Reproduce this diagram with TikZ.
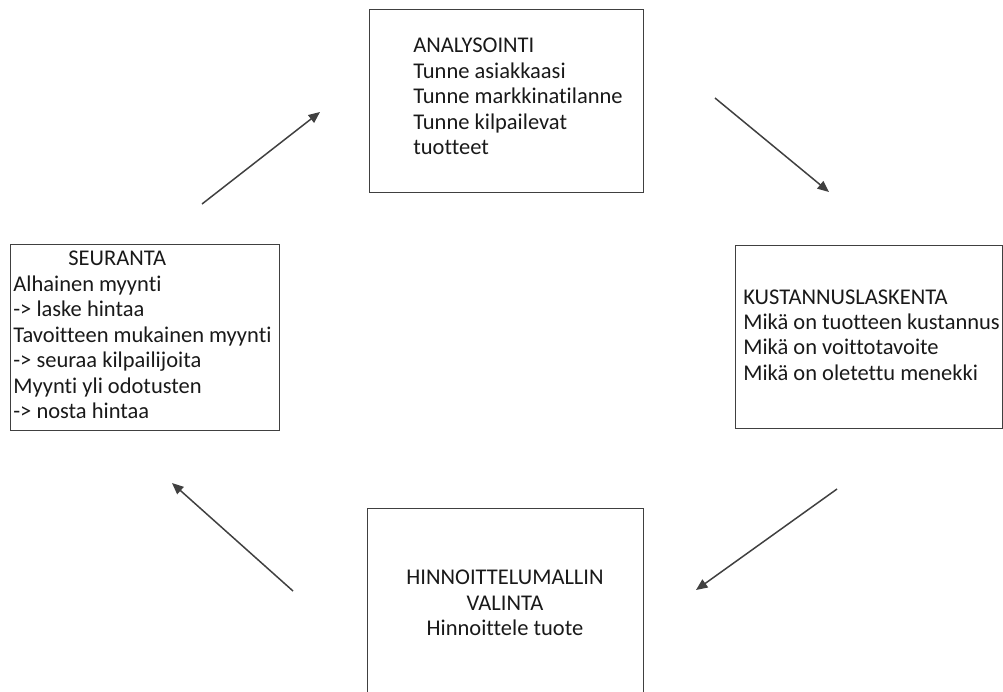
\documentclass[tikz,border=0pt]{standalone}
\usepackage{fontspec}
\setmainfont{Carlito}[Ligatures=NoCommon]
\usepackage{tikz}
\usetikzlibrary{arrows.meta, positioning}

\begin{document}
\begin{tikzpicture}[x=0.02cm, y=-0.02cm, >={Triangle[length=6.5pt, width=5.5pt]}, font=\fontsize{12.8}{14.5}\selectfont]
    \tikzstyle{box} = [rectangle, draw=black!75, line width=0.8pt, anchor=north west, inner sep=0pt]
    \tikzstyle{txt} = [inner sep=0pt, anchor=west, align=left, text=black!90]
    \tikzstyle{flow} = [->, draw=black!75, line width=0.85pt]

    \useasboundingbox (0,0) rectangle (1003,691);

    % Boxes
    \node [box, minimum width=5.48cm, minimum height=3.66cm] (analyysi) at (369,9) {};
    \node [box, minimum width=5.34cm, minimum height=3.66cm] (kustannus) at (735,245) {};
    \node [box, minimum width=5.52cm, minimum height=3.84cm] (hinnoittelu) at (367,508) {};
    \node [box, minimum width=5.38cm, minimum height=3.72cm] (seuranta) at (10,244) {};

    % Texts
    \node [txt] (analyysi_txt) at (413,96.6) {ANALYSOINTI\\ Tunne asiakkaasi\\ Tunne markkinatilanne\\ Tunne kilpailevat\\ tuotteet};
    \node [txt] (kustannus_txt) at (743,335) {KUSTANNUSLASKENTA\\ Mikä on tuotteen kustannus\\ Mikä on voittotavoite\\ Mikä on oletettu menekki};
    \node [txt, anchor=center, align=center] (hinnoittelu_txt) at (505,603) {HINNOITTELUMALLIN\\ VALINTA\\ Hinnoittele tuote};
    \node [txt] (seuranta_txt) at (13,335) {\hspace*{1.1cm}SEURANTA\\ Alhainen myynti\\ -> laske hintaa\\ Tavoitteen mukainen myynti\\ -> seuraa kilpailijoita\\ Myynti yli odotusten\\ -> nosta hintaa};

    % Arrow ends
    \coordinate (a1s) at (202,204);
    \coordinate (a1e) at (320,112);
    \coordinate (a2s) at (715,98);
    \coordinate (a2e) at (829,192);
    \coordinate (a3s) at (837,489);
    \coordinate (a3e) at (696,590);
    \coordinate (a4s) at (293,591);
    \coordinate (a4e) at (172,483);

    % Connections
    \draw [flow] (a1s) -- (a1e);
    \draw [flow] (a2s) -- (a2e);
    \draw [flow] (a3s) -- (a3e);
    \draw [flow] (a4s) -- (a4e);
  \end{tikzpicture}
\end{document}
